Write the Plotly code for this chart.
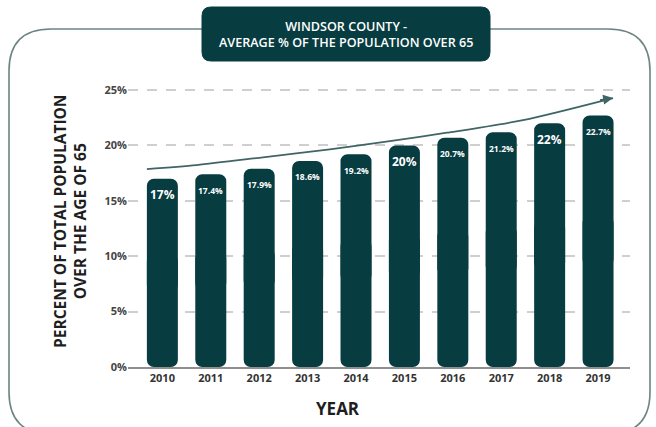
import plotly.graph_objects as go

years = ["2010", "2011", "2012", "2013", "2014", "2015", "2016", "2017", "2018", "2019"]
values = [17.0, 17.4, 17.9, 18.6, 19.2, 20.0, 20.7, 21.2, 22.0, 22.7]
labels = ["17%", "17.4%", "17.9%", "18.6%", "19.2%", "20%", "20.7%", "21.2%", "22%", "22.7%"]
label_sizes = [12, 8.5, 8.5, 8.5, 8.5, 12, 8.5, 8.5, 12, 8.5]
y_ticks = [0, 5, 10, 15, 20, 25]
y_tick_text = ["0%", "5%", "10%", "15%", "20%", "25%"]
trend_x = [-0.32, 0.71, 2.08, 3.46, 4.70, 5.88, 7.45, 9.31]
trend_y = [17.87, 18.23, 18.93, 19.65, 20.40, 21.15, 22.29, 24.28]

BAR = "#073c40"
TREND = "#3f6664"
W, H = 656, 427
L, R, T, B = 128, 26, 79, 60
pw, ph = W - L - R, H - T - B

def px(x):
    return (x - L) / pw

def py(y):
    return (H - B - y) / ph

xs = list(range(len(years)))
low = [v * 0.6 for v in values]
up = [v * 0.4 for v in values]

fig = go.Figure()
# lower half (rounded at bottom)
fig.add_trace(go.Bar(x=xs, y=[-l for l in low], base=low, width=0.64,
                     marker=dict(color=BAR, line=dict(width=0)), hoverinfo="skip"))
# upper half (rounded at top)
fig.add_trace(go.Bar(x=xs, y=[v - u for v, u in zip(values, up)], base=up, width=0.64,
                     marker=dict(color=BAR, line=dict(width=0)),
                     customdata=values, hovertemplate="%{customdata}%<extra></extra>"))
fig.add_trace(go.Scatter(x=trend_x, y=trend_y, mode="lines",
                         line=dict(color=TREND, width=1.8, shape="spline", smoothing=0.8),
                         hoverinfo="skip"))

ann = []
for i, (v, t, s) in enumerate(zip(values, labels, label_sizes)):
    ann.append(dict(x=i, y=v, text=t, showarrow=False, yshift=-16,
                    font=dict(family="Open Sans", size=s, color="white", weight="bold")))
# arrow head
ann.append(dict(x=trend_x[-1], y=trend_y[-1], ax=trend_x[-1] - 0.3, ay=trend_y[-1] - 0.22,
                axref="x", ayref="y", xref="x", yref="y", text="", showarrow=True,
                arrowhead=2, arrowsize=1.1, arrowwidth=1.8, arrowcolor=TREND, standoff=0))
# title
ann.append(dict(x=px(346), y=py(34), xref="paper", yref="paper", showarrow=False,
                text="WINDSOR COUNTY -<br>AVERAGE % OF THE POPULATION OVER 65",
                font=dict(family="Open Sans", size=12.6, color="white", weight=600),
                xanchor="center", yanchor="middle"))
# y title
ann.append(dict(x=px(70), y=py(222), xref="paper", yref="paper", showarrow=False,
                text="PERCENT OF TOTAL POPULATION<br>OVER THE AGE OF 65", textangle=-90,
                font=dict(family="Open Sans", size=15.5, color="#1e1e1e", weight="bold"),
                xanchor="center", yanchor="middle"))
# x title
ann.append(dict(x=px(338), y=py(408), xref="paper", yref="paper", showarrow=False,
                text="YEAR",
                font=dict(family="Open Sans", size=17, color="#1e1e1e", weight="bold"),
                xanchor="center", yanchor="middle"))

def rrect(x0, y0, x1, y1, r):
    # pixel coords -> paper path with rounded corners
    rx, ry = r / pw, r / ph
    X0, X1 = px(x0), px(x1)
    Yt, Yb = py(y0), py(y1)
    return (f"M {X0+rx},{Yt} L {X1-rx},{Yt} Q {X1},{Yt} {X1},{Yt-ry} "
            f"L {X1},{Yb+ry} Q {X1},{Yb} {X1-rx},{Yb} L {X0+rx},{Yb} "
            f"Q {X0},{Yb} {X0},{Yb+ry} L {X0},{Yt-ry} Q {X0},{Yt} {X0+rx},{Yt} Z")

shapes = [
    dict(type="path", xref="paper", yref="paper", path=rrect(9, 29, 650, 434, 42),
         line=dict(color="#6c8482", width=1.6), fillcolor="rgba(0,0,0,0)", layer="below"),
    dict(type="path", xref="paper", yref="paper", path=rrect(202, 7, 490, 61, 9),
         line=dict(color=BAR, width=1), fillcolor=BAR, layer="above"),
]

fig.update_layout(
    width=W, height=H, margin=dict(l=L, r=R, t=T, b=B),
    paper_bgcolor="white", plot_bgcolor="white",
    barmode="overlay", barcornerradius=7, showlegend=False,
    annotations=ann, shapes=shapes,
    xaxis=dict(range=[-0.71, 9.66], tickmode="array", tickvals=xs, ticktext=years,
               showgrid=False, showline=True, linecolor="#8f8f8f", linewidth=1.5,
               ticks="", zeroline=False,
               tickfont=dict(family="Open Sans", size=11, color="#333333", weight="bold")),
    yaxis=dict(range=[0, 26], tickmode="array", tickvals=y_ticks, ticktext=y_tick_text,
               showgrid=True, gridcolor="#cfcfcf", gridwidth=1.5, griddash="10px,9px",
               zeroline=False, showline=False, ticks="",
               tickfont=dict(family="Open Sans", size=11, color="#444444", weight="bold")),
)

fig.write_html("out.html")
